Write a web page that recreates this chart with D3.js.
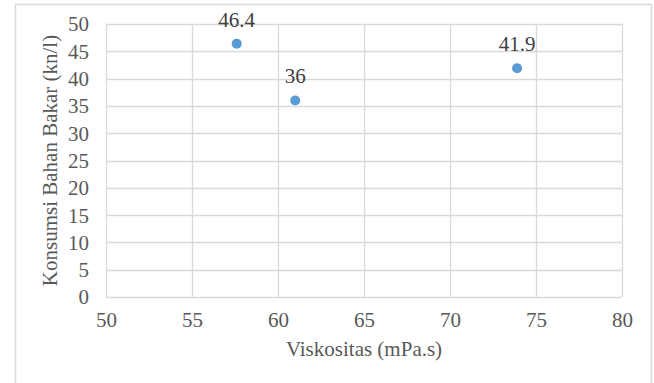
<!DOCTYPE html>
<html><head><meta charset="utf-8">
<script src="https://cdn.jsdelivr.net/npm/d3@7"></script>
<style>html,body{margin:0;padding:0;background:#fff;}svg{display:block;}</style>
</head><body>
<svg id="c" width="654" height="383"></svg>
<script>
const viskositas = [57.6, 61.0, 73.9];
const konsumsi = [46.4, 36, 41.9];
const labels = ["46.4", "36", "41.9"];
const xTicks = [50, 55, 60, 65, 70, 75, 80];
const yTicks = [0, 5, 10, 15, 20, 25, 30, 35, 40, 45, 50];
const xTitle = "Viskositas (mPa.s)";
const yTitle = "Konsumsi Bahan Bakar (kn/l)";

const svg = d3.select("#c");
const FONT = '"Liberation Serif"';
const FS = "21px";
const L = 106, R = 622, T = 24, B = 297;
const x = d3.scaleLinear().domain([50, 80]).range([L, R]);
const y = d3.scaleLinear().domain([0, 50]).range([B, T]);

// outer chart border
svg.append("path").attr("d", `M15.5,383V4.5H651.5V383`)
  .attr("fill", "none").attr("stroke", "#d9d9d9").attr("stroke-width", 1.5);

// gridlines
const g = svg.append("g");
g.selectAll(".vx").data(xTicks).join("line")
  .attr("x1", d => Math.round(x(d)) + 0.5).attr("x2", d => Math.round(x(d)) + 0.5)
  .attr("y1", T).attr("y2", B).attr("stroke", "#d9d9d9").attr("stroke-width", 1.3);
g.selectAll(".hy").data(yTicks).join("line")
  .attr("y1", d => Math.round(y(d)) + 0.5).attr("y2", d => Math.round(y(d)) + 0.5)
  .attr("x1", L).attr("x2", R).attr("stroke", "#d9d9d9").attr("stroke-width", 1.3);

// axis tick labels
const xAxis = d3.axisBottom(x).tickValues(xTicks).tickSize(0).tickPadding(0);
const xa = svg.append("g").attr("transform", `translate(0,${B})`).call(xAxis);
xa.select(".domain").remove();
xa.selectAll("text").attr("dy", null).attr("y", 30)
  .style("font-family", FONT).style("font-size", FS).attr("fill", "#595959");

const yAxis = d3.axisLeft(y).tickValues(yTicks).tickSize(0).tickPadding(0);
const ya = svg.append("g").attr("transform", `translate(89,0)`).call(yAxis);
ya.select(".domain").remove();
ya.selectAll("text").attr("dy", "0.33em").attr("x", 0)
  .style("font-family", FONT).style("font-size", FS).attr("fill", "#595959");

// axis titles
svg.append("text").attr("x", (L + R) / 2).attr("y", 356).attr("text-anchor", "middle")
  .style("font-family", FONT).style("font-size", FS).attr("fill", "#595959").text(xTitle);
svg.append("text").attr("transform", `translate(57,${(T + B) / 2}) rotate(-90)`)
  .attr("text-anchor", "middle")
  .style("font-family", FONT).style("font-size", FS).attr("fill", "#595959").text(yTitle);

// points
const pts = viskositas.map((v, i) => ({ x: v, y: konsumsi[i], label: labels[i] }));
svg.selectAll(".pt").data(pts).join("circle")
  .attr("cx", d => x(d.x)).attr("cy", d => y(d.y)).attr("r", 5)
  .attr("fill", "#5b9bd5");
svg.selectAll(".lbl").data(pts).join("text")
  .attr("x", d => x(d.x)).attr("y", d => y(d.y) - 17).attr("text-anchor", "middle")
  .style("font-family", FONT).style("font-size", FS).attr("fill", "#404040").text(d => d.label);
</script>
</body></html>
